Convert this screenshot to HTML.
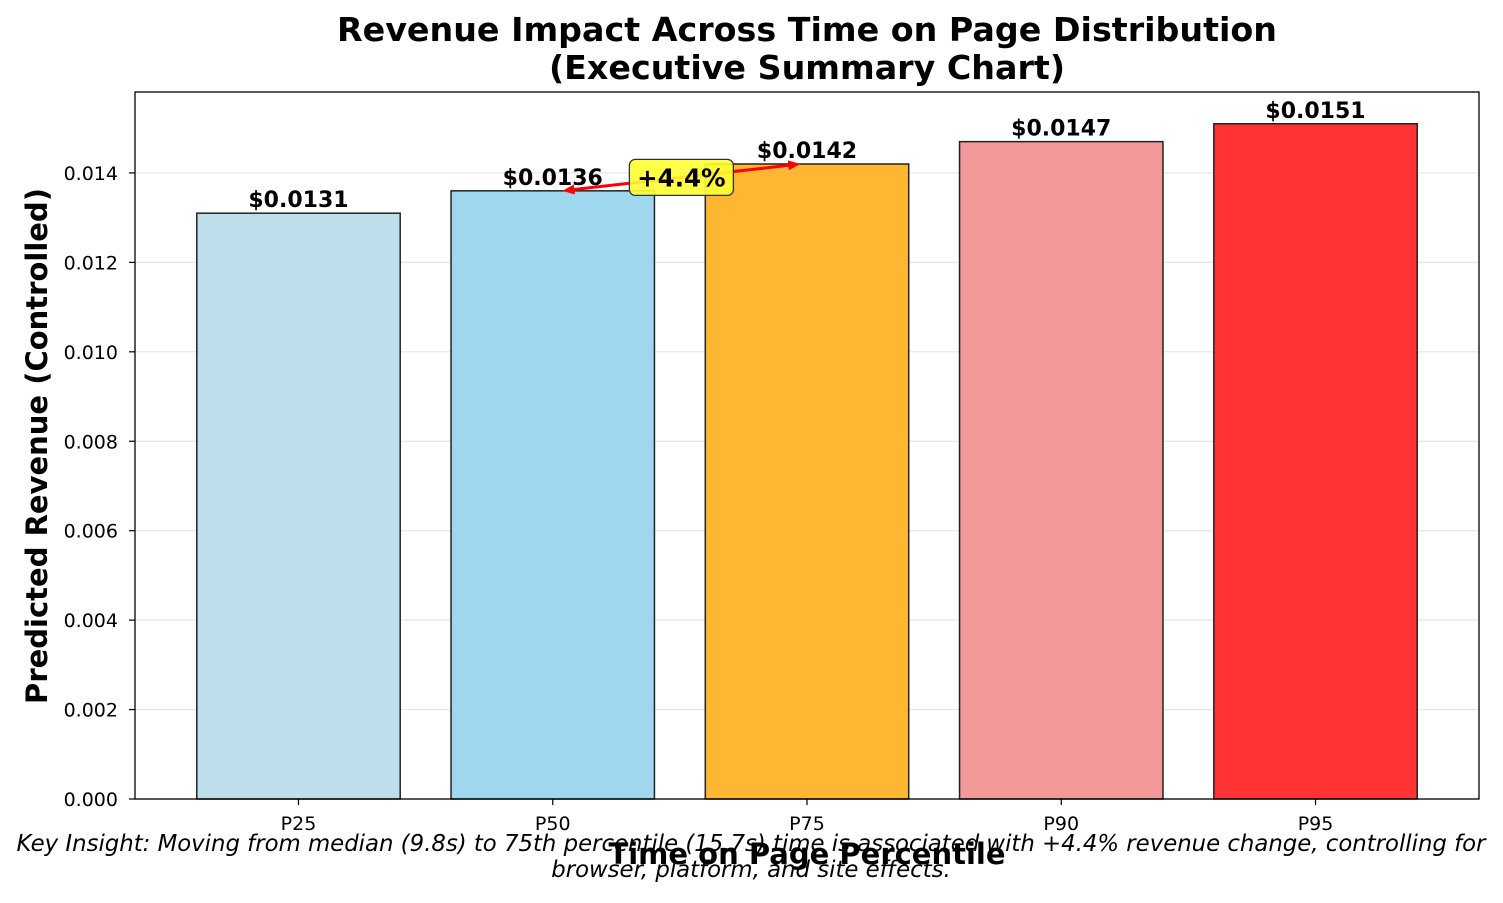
<!DOCTYPE html>
<html><head><meta charset="utf-8"><style>
body{margin:0;background:#fff;}
svg text{font-family:"DejaVu Sans","Liberation Sans",sans-serif;}
</style></head><body>
<svg id="chart" width="1503" height="898" viewBox="0 0 1503 898">
<text x="807" y="41" text-anchor="middle" font-size="33.3" font-weight="bold">Revenue Impact Across Time on Page Distribution</text>
<text x="807" y="79" text-anchor="middle" font-size="33.3" font-weight="bold">(Executive Summary Chart)</text>
<g id="grid"></g>
<g id="bars"></g>
<g id="axes"></g>
<text transform="translate(47,446) rotate(-90)" text-anchor="middle" font-size="29" font-weight="bold">Predicted Revenue (Controlled)</text>
<text x="807" y="864" text-anchor="middle" font-size="29" font-weight="bold">Time on Page Percentile</text>
<text x="751" y="851" text-anchor="middle" font-size="22.8" font-style="italic">Key Insight: Moving from median (9.8s) to 75th percentile (15.7s) time is associated with +4.4% revenue change, controlling for</text>
<text x="751" y="877" text-anchor="middle" font-size="22.8" font-style="italic">browser, platform, and site effects.</text>
</svg>
<script>
const categories=["P25","P50","P75","P90","P95"];
const revenue=[0.0131,0.0136,0.0142,0.0147,0.0151];
const valueLabels=["$0.0131","$0.0136","$0.0142","$0.0147","$0.0151"];
const yTicks=[0,0.002,0.004,0.006,0.008,0.010,0.012,0.014];
const colors=["#bddfeb","#9fd7ee","#ffb733","#f39999","#ff3333"];
const changeLabel="+4.4%";
const L=135,R=1479,T=92,B=799,yMax=0.01581;
const ns="http://www.w3.org/2000/svg";
const y=v=>B-(v/yMax)*(B-T);
const step=(R-L)/(categories.length-1+1.286);
const x=i=>L+step*(0.643+i);
const bw=step*0.8;
function mk(tag,attrs,parent,txt){const e=document.createElementNS(ns,tag);for(const k in attrs)e.setAttribute(k,attrs[k]);if(txt!==undefined)e.textContent=txt;parent.appendChild(e);return e;}
const grid=document.getElementById('grid'),bars=document.getElementById('bars'),axes=document.getElementById('axes');
yTicks.forEach(t=>{
 const g=mk('line',{x1:L,x2:R,y1:y(t),y2:y(t),stroke:'#e6e6e6','stroke-width':1.2},grid);
 
 
 const tk=mk('line',{x1:L-6,x2:L,y1:y(t),y2:y(t),stroke:'#000','stroke-width':1.2},axes);
 
 
 const lb=mk('text',{x:L-17,y:y(t)+7,'text-anchor':'end','font-size':19},axes,t.toFixed(3));
 
 
});
categories.forEach((c,i)=>{
 const r=mk('rect',{x:x(i)-bw/2,y:y(revenue[i]),width:bw,height:B-y(revenue[i]),fill:colors[i],stroke:'#222','stroke-width':1.5},bars);
 
 
 const v=mk('text',{x:x(i),y:y(revenue[i])-6,'text-anchor':'middle','font-size':22,'font-weight':'bold'},bars,valueLabels[i]);
 
 
 const tk=mk('line',{x1:x(i),x2:x(i),y1:B,y2:B+6,stroke:'#000','stroke-width':1.2},axes);
 
 
 const lb=mk('text',{x:x(i),y:B+31,'text-anchor':'middle','font-size':19},axes,c);
 
 
});
const frame=mk('rect',{x:L,y:T,width:R-L,height:B-T,fill:'none',stroke:'#000','stroke-width':1.3},axes);


const x1=x(1)+bw/2-92,y1=y(revenue[1]),x2=x(2)-bw/2+95,y2=y(revenue[2]);
const ar=mk('line',{x1:x1+6,y1:y1-0.7,x2:x2-6,y2:y2+0.7,stroke:'#f00','stroke-width':3},bars);


const ang=Math.atan2(y2-y1,x2-x1);
[[x2,y2,ang],[x1,y1,ang+Math.PI]].forEach(([px,py,a])=>{
 const p1=[px-12*Math.cos(a)+5*Math.sin(a),py-12*Math.sin(a)-5*Math.cos(a)];
 const p2=[px-12*Math.cos(a)-5*Math.sin(a),py-12*Math.sin(a)+5*Math.cos(a)];
 const h=mk('polygon',{points:`${px},${py} ${p1} ${p2}`,fill:'#f00'},bars);
 
 
});
const cx=(x1+x2)/2,cy=(y1+y2)/2;
const bx=mk('rect',{x:cx-52,y:cy-18,width:104,height:36,rx:6,fill:'#ffff33',stroke:'#333','stroke-width':1.3,'fill-opacity':0.9},bars);


const ct=mk('text',{x:cx,y:cy+9,'text-anchor':'middle','font-size':24.5,'font-weight':'bold'},bars,changeLabel);


</script>
</body></html>
